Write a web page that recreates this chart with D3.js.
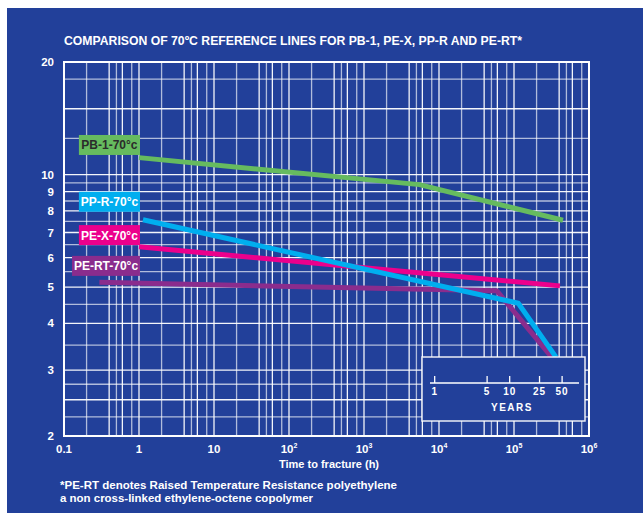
<!DOCTYPE html>
<html>
<head>
<meta charset="utf-8">
<script src="https://cdn.jsdelivr.net/npm/d3@7"></script>
<style>
  body { margin: 0; background: #fff; }
  text { font-family: "Liberation Sans", Arial, sans-serif; font-weight: bold; fill: #fff; }
</style>
</head>
<body>
<svg class="chart" width="643" height="513"></svg>
<script>
// data
var pb1Hours = [1, 5500, 450000];
var pb1Stress = [11.1, 9.4, 7.55];
var pprHours = [1.13, 114000, 363000];
var pprStress = [7.57, 4.53, 3.25];
var pexHours = [1, 410000];
var pexStress = [6.41, 5.04];
var pertHours = [0.296, 59000, 318000];
var pertStress = [5.15, 4.89, 3.25];

var yTicks = [2, 3, 4, 5, 6, 7, 8, 9, 10, 20];
var xTicks = [0.1, 1, 10, 1e2, 1e3, 1e4, 1e5, 1e6];
var yearTicks = [1, 5, 10, 25, 50];

var labels = [
  {name: "PB-1-70°c", color: "#66bb5f", text: "#2b2b2b", y: 12.0, x0: 0.158},
  {name: "PP-R-70°c", color: "#00aeef", text: "#fff", y: 8.46, x0: 0.158},
  {name: "PE-X-70°c", color: "#ec008c", text: "#fff", y: 6.89, x0: 0.158},
  {name: "PE-RT-70°c", color: "#8a2c8d", text: "#fff", y: 5.7, x0: 0.128}
];

var svg = d3.select(".chart");

svg.append("rect")
  .attr("x", 7).attr("y", 8)
  .attr("width", 636).attr("height", 505)
  .attr("fill", "#22409a");

var x = d3.scaleLog().domain([0.1, 1e6]).range([64, 589]);
var y = d3.scaleLog().domain([2, 20]).range([436, 62]);

svg.append("text")
  .attr("x", 64).attr("y", 45)
  .attr("textLength", 458).attr("lengthAdjust", "spacingAndGlyphs")
  .style("font-size", "12.5px")
  .text("COMPARISON OF 70ºC REFERENCE LINES FOR PB-1, PE-X, PP-R AND PE-RT*");

// grid
var vGrid = [];
for (var e = -1; e < 6; e++) {
  [2, 4, 5, 6, 8, 10].forEach(function(m) { vGrid.push(m * Math.pow(10, e)); });
}
var hGrid = [2.25, 2.5, 2.75, 3, 3.5, 4, 4.5, 5, 5.5, 6, 6.5, 7, 7.5, 8, 8.5, 9, 9.5, 10, 12.5, 15, 18];
var brightH = [2.5, 3, 4, 5, 6, 7, 8, 9, 10, 15];

var grid = svg.append("g");
grid.selectAll(".v").data(vGrid).enter().append("line")
  .attr("x1", function(d) { return x(d); }).attr("x2", function(d) { return x(d); })
  .attr("y1", 62).attr("y2", 436)
  .attr("stroke", "#fff")
  .attr("stroke-width", 1.3)
  .attr("stroke-opacity", function(d) {
    var m = Math.round(d / Math.pow(10, Math.floor(Math.log10(d) + 1e-9)));
    return (m == 1 || m == 4 || m == 6) ? 0.95 : 0.65;
  });
grid.selectAll(".h").data(hGrid).enter().append("line")
  .attr("y1", function(d) { return y(d); }).attr("y2", function(d) { return y(d); })
  .attr("x1", 64).attr("x2", 589)
  .attr("stroke", "#fff")
  .attr("stroke-width", 1.3)
  .attr("stroke-opacity", function(d) { return brightH.indexOf(d) >= 0 ? 0.95 : 0.65; });

svg.append("rect")
  .attr("x", 64).attr("y", 62).attr("width", 525).attr("height", 374)
  .attr("fill", "none").attr("stroke", "#fff").attr("stroke-width", 2);

// y labels
svg.selectAll(".yl").data(yTicks).enter().append("text")
  .attr("x", 54).attr("y", function(d) { return y(d) + 4; })
  .attr("text-anchor", "end")
  .style("font-size", "11.5px")
  .text(function(d) { return d; });

// x labels
var xl = svg.selectAll(".xl").data(xTicks).enter().append("text")
  .attr("x", function(d) { return x(d); }).attr("y", 453)
  .attr("text-anchor", "middle")
  .style("font-size", "11.5px");
xl.each(function(d) {
  var t = d3.select(this), p = Math.round(Math.log10(d));
  if (p < 2) { t.text(d); return; }
  t.append("tspan").text("10");
  t.append("tspan").attr("dy", -5).style("font-size", "7px").text(p);
});

svg.append("text")
  .attr("x", 329).attr("y", 468)
  .attr("text-anchor", "middle")
  .style("font-size", "11px")
  .text("Time to fracture (h)");

svg.append("text").attr("x", 60).attr("y", 489)
  .attr("textLength", 337).attr("lengthAdjust", "spacingAndGlyphs")
  .style("font-size", "11.5px")
  .text("*PE-RT denotes Raised Temperature Resistance polyethylene");
svg.append("text").attr("x", 60).attr("y", 502)
  .attr("textLength", 253).attr("lengthAdjust", "spacingAndGlyphs")
  .style("font-size", "11.5px")
  .text("a non cross-linked ethylene-octene copolymer");

// reference lines
var series = [
  {h: pb1Hours, s: pb1Stress, c: "#66bb5f"},
  {h: pexHours, s: pexStress, c: "#ec008c"},
  {h: pertHours, s: pertStress, c: "#8a2c8d"},
  {h: pprHours, s: pprStress, c: "#00aeef"}
];
var line = d3.line().x(function(d) { return x(d[0]); }).y(function(d) { return y(d[1]); });
svg.selectAll(".ref").data(series).enter().append("path")
  .attr("d", function(d) { return line(d3.zip(d.h, d.s)); })
  .attr("fill", "none")
  .attr("stroke", function(d) { return d.c; })
  .attr("stroke-width", 5)
  .attr("stroke-linejoin", "round");

// label boxes
var lb = svg.selectAll(".lb").data(labels).enter().append("g")
  .attr("transform", function(d) { return "translate(" + x(d.x0) + "," + (y(d.y) - 10) + ")"; });
lb.append("rect")
  .attr("width", function(d) { return x(1.03) - x(d.x0); })
  .attr("height", 20)
  .attr("fill", function(d) { return d.color; });
lb.append("text")
  .attr("x", function(d) { return (x(1.03) - x(d.x0)) / 2; })
  .attr("y", 14.5)
  .attr("text-anchor", "middle")
  .style("font-size", "12px")
  .style("fill", function(d) { return d.text; })
  .text(function(d) { return d.name; });

// years box
var yb = svg.append("g");
yb.append("rect")
  .attr("x", 422).attr("y", 357).attr("width", 163).attr("height", 64)
  .attr("fill", "#22409a").attr("stroke", "#fff").attr("stroke-opacity", 0.9).attr("stroke-width", 1.5);
yb.append("line")
  .attr("x1", 430).attr("x2", 579).attr("y1", 383).attr("y2", 383)
  .attr("stroke", "#fff").attr("stroke-width", 1.5);
yb.selectAll(".yt").data(yearTicks).enter().append("line")
  .attr("x1", function(d) { return x(d * 8760); }).attr("x2", function(d) { return x(d * 8760); })
  .attr("y1", 376).attr("y2", 383)
  .attr("stroke", "#fff").attr("stroke-width", 1.3);
yb.selectAll(".ytl").data(yearTicks).enter().append("text")
  .attr("x", function(d) { return x(d * 8760); }).attr("y", 395)
  .attr("text-anchor", "middle")
  .style("font-size", "10px").style("letter-spacing", "1px")
  .text(function(d) { return d; });
yb.append("text")
  .attr("x", 512).attr("y", 411)
  .attr("text-anchor", "middle")
  .style("font-size", "10px").style("letter-spacing", "1.5px")
  .text("YEARS");
</script>
</body>
</html>
